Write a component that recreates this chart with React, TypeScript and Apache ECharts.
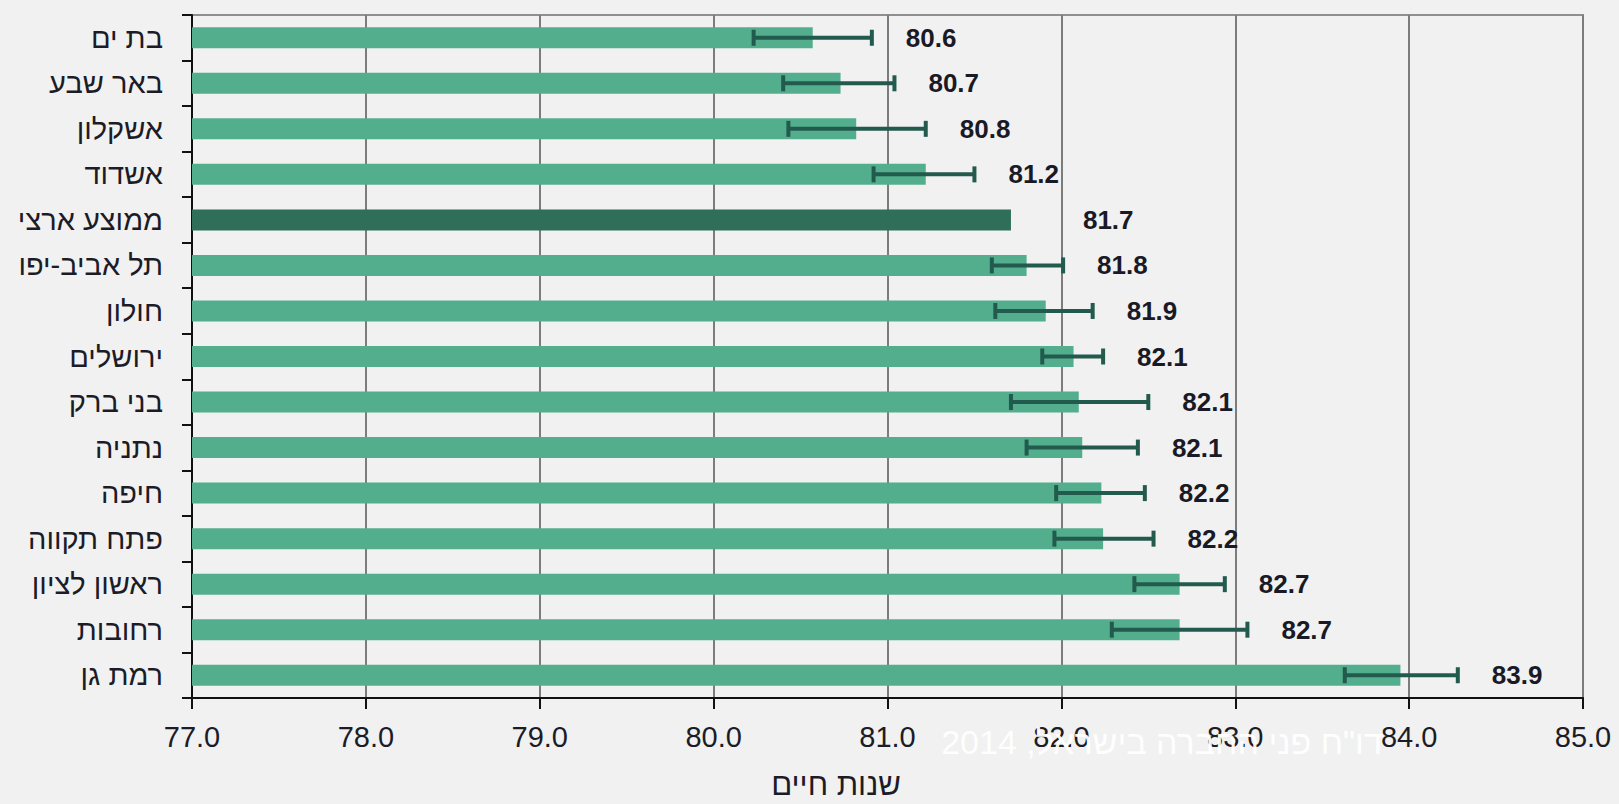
import React, { useEffect, useRef } from "react";
import * as echarts from "echarts";

const categories = [
  "בת ים",
  "באר שבע",
  "אשקלון",
  "אשדוד",
  "ממוצע ארצי",
  "תל אביב-יפו",
  "חולון",
  "ירושלים",
  "בני ברק",
  "נתניה",
  "חיפה",
  "פתח תקווה",
  "ראשון לציון",
  "רחובות",
  "רמת גן",
];
const values = [80.57, 80.73, 80.82, 81.22, 81.71, 81.8, 81.91, 82.07, 82.1, 82.12, 82.23, 82.24, 82.68, 82.68, 83.95];
const valueLabels = ["80.6", "80.7", "80.8", "81.2", "81.7", "81.8", "81.9", "82.1", "82.1", "82.1", "82.2", "82.2", "82.7", "82.7", "83.9"];
const errLow = [80.23, 80.4, 80.43, 80.92, null, 81.6, 81.62, 81.89, 81.71, 81.8, 81.97, 81.96, 82.42, 82.29, 83.63];
const errHigh = [80.91, 81.04, 81.22, 81.5, null, 82.01, 82.18, 82.24, 82.5, 82.44, 82.48, 82.53, 82.94, 83.07, 84.28];
const AVG = "ממוצע ארצי";
const xTitle = "שנות חיים";
const watermark = 'דו"ח פני החברה בישראל, 2014';

export default function App() {
  const ref = useRef<HTMLDivElement>(null);
  useEffect(() => {
    const chart = echarts.init(ref.current!, null, { renderer: "svg" });
    const FONT = '"Liberation Sans", Arial, "DejaVu Sans", sans-serif';
    const barData = values.map((v, i) => ({
      value: v,
      itemStyle: { color: categories[i] === AVG ? "#2f6f5a" : "#53ae8e" },
    }));
    const errData: any[] = [];
    categories.forEach((c, i) => {
      if (errLow[i] != null && errHigh[i] != null) errData.push([i, errLow[i], errHigh[i]]);
    });
    const labelData = categories.map((c, i) => [
      i,
      errHigh[i] != null ? Math.max(errHigh[i] as number, values[i]) : values[i],
      errHigh[i] != null ? 1 : 0,
    ]);
    const errColor = "#225a4d";
    chart.setOption({
      animation: false,
      backgroundColor: "#f1f1f1",
      grid: {
        left: 192,
        right: 36,
        top: 15,
        bottom: 106,
        show: true,
        borderColor: "#8f8f8f",
        borderWidth: 2,
        backgroundColor: "transparent",
      },
      xAxis: {
        type: "value",
        min: 77,
        max: 85,
        interval: 1,
        axisLine: { show: true, lineStyle: { color: "#111", width: 2 } },
        axisTick: { show: true, length: 11, lineStyle: { color: "#111", width: 2 } },
        axisLabel: {
          margin: 24,
          fontSize: 29,
          fontFamily: FONT,
          color: "#1c1c28",
          formatter: (v: number) => v.toFixed(1),
        },
        splitLine: { show: true, lineStyle: { color: "#7c7c7c", width: 2 } },
      },
      yAxis: {
        type: "category",
        inverse: true,
        data: categories,
        axisLine: { show: true, lineStyle: { color: "#111", width: 2 } },
        axisTick: { show: true, length: 10, lineStyle: { color: "#111", width: 2 } },
        axisLabel: { margin: 29, fontSize: 29, fontFamily: FONT, color: "#1c1c28" },
        splitLine: { show: false },
      },
      series: [
        {
          type: "bar",
          data: barData,
          barWidth: 21,
          z: 2,
        },
        {
          type: "custom",
          z: 3,
          clip: false,
          encode: { x: [1, 2], y: 0 },
          data: errData,
          renderItem: (params: any, api: any) => {
            const i = api.value(0);
            const a = api.coord([api.value(1), i]);
            const b = api.coord([api.value(2), i]);
            const y = a[1];
            const cap = 8;
            const style = { stroke: errColor, lineWidth: 4 };
            return {
              type: "group",
              children: [
                { type: "line", shape: { x1: a[0], y1: y, x2: b[0], y2: y }, style },
                { type: "line", shape: { x1: a[0], y1: y - cap, x2: a[0], y2: y + cap }, style },
                { type: "line", shape: { x1: b[0], y1: y - cap, x2: b[0], y2: y + cap }, style },
              ],
            };
          },
        },
        {
          type: "custom",
          z: 4,
          clip: false,
          encode: { x: 1, y: 0 },
          data: labelData,
          renderItem: (params: any, api: any) => {
            const i = api.value(0);
            const p = api.coord([api.value(1), i]);
            const gap = api.value(2) ? 34 : 72;
            return {
              type: "text",
              x: p[0] + gap,
              y: p[1],
              style: {
                text: valueLabels[params.dataIndex],
                fill: "#1a1a26",
                fontSize: 26,
                fontWeight: "bold",
                fontFamily: FONT,
                align: "left",
                verticalAlign: "middle",
              },
            };
          },
        },
      ],
      graphic: [
        {
          type: "text",
          x: 836,
          y: 784,
          style: {
            text: xTitle,
            fill: "#1c1c28",
            fontSize: 31,
            fontFamily: FONT,
            align: "center",
            verticalAlign: "middle",
          },
        },
        {
          type: "text",
          x: 1162,
          y: 742,
          z: 100,
          style: {
            text: watermark,
            fill: "#ffffff",
            opacity: 0.95,
            fontSize: 34,
            fontFamily: FONT,
            align: "center",
            verticalAlign: "middle",
          },
        },
      ],
    });
    return () => chart.dispose();
  }, []);
  return <div ref={ref} style={{ position: "absolute", left: 0, top: 0, width: 1619, height: 804 }} />;
}
